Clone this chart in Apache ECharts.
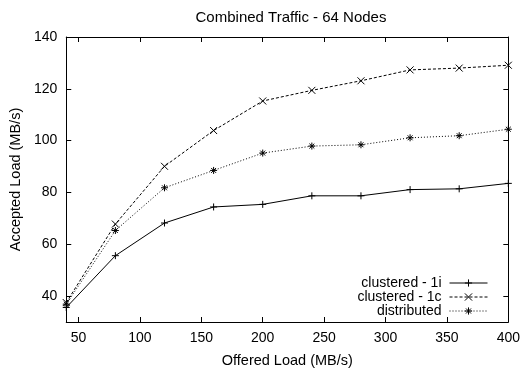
<!DOCTYPE html>
<html>
<head>
<meta charset="utf-8">
<script src="https://cdn.jsdelivr.net/npm/echarts@6/dist/echarts.min.js"></script>
<style>
  html, body { margin: 0; padding: 0; background: #fff; }
  #chart { width: 523px; height: 375px; }
</style>
</head>
<body>
<div id="chart"></div>
<script>
// Offered load (MB/s) at each measurement
const offeredLoad = [40, 80, 120, 160, 200, 240, 280, 320, 360, 400];

// Accepted load (MB/s) per configuration
const clustered1i = [35.6, 55.6, 68.2, 74.4, 75.4, 78.7, 78.7, 81.1, 81.4, 83.5];
const clustered1c = [37.5, 67.8, 90.1, 103.9, 115.3, 119.4, 123.1, 127.3, 128.0, 129.1];
const distributed = [36.9, 65.3, 81.8, 88.5, 95.2, 97.9, 98.4, 101.1, 101.9, 104.4];

// Tick positions on both axes
const xTicks = [50, 100, 150, 200, 250, 300, 350, 400];
const yTicks = [40, 60, 80, 100, 120, 140];

const seriesNames = ['clustered - 1i', 'clustered - 1c', 'distributed'];

const FONT = 'Liberation Sans, Arial, Helvetica, sans-serif';
const INK = '#000';

// Point markers: plus, cross and star
const PLUS = 'path://M5,0L5,10M0,5L10,5';
const CROSS = 'path://M0,0L10,10M10,0L0,10';
const STAR = 'path://M5,0L5,10M0,5L10,5M1.5,1.5L8.5,8.5M8.5,1.5L1.5,8.5';

function pairs(ys) {
  return offeredLoad.map((x, i) => [x, ys[i]]);
}

function lineSeries(name, ys, symbol, dash) {
  return {
    name: name,
    type: 'line',
    data: pairs(ys),
    symbol: symbol,
    symbolSize: 7,
    showAllSymbol: true,
    lineStyle: { color: INK, width: 1, type: dash },
    itemStyle: { color: INK, borderColor: INK, borderWidth: 1 },
    emphasis: { disabled: true },
    animation: false,
    z: 3
  };
}

const axisLineStyle = { show: true, lineStyle: { color: INK, width: 1 } };
const tickStyle = (vals) => ({
  show: true, inside: true, length: 5,
  customValues: vals,
  lineStyle: { color: INK, width: 1 }
});

const chart = echarts.init(document.getElementById('chart'), null, { renderer: 'canvas' });

chart.setOption({
  backgroundColor: '#fff',
  animation: false,
  title: {
    text: 'Combined Traffic - 64 Nodes',
    left: 286,
    top: 5,
    textAlign: 'center',
    textStyle: { fontFamily: FONT, fontSize: 15, fontWeight: 'normal', color: INK }
  },
  grid: { left: 66, right: 13, top: 37, bottom: 53, containLabel: false },
  legend: {
    orient: 'vertical',
    align: 'right',
    right: 35,
    top: 276,
    padding: 0,
    itemWidth: 38,
    itemHeight: 9,
    itemGap: 0,
    data: seriesNames,
    lineStyle: { width: 1 },
    itemStyle: { borderWidth: 1 },
    textStyle: { fontFamily: FONT, fontSize: 14, lineHeight: 14, color: INK, padding: [0, 3, 0, 0] },
    selectedMode: false
  },
  xAxis: [
    {
      type: 'value', position: 'bottom', min: 40, max: 400,
      name: 'Offered Load (MB/s)', nameLocation: 'middle', nameGap: 31,
      nameTextStyle: { fontFamily: FONT, fontSize: 14.5, color: INK },
      axisLine: axisLineStyle,
      axisTick: tickStyle(xTicks),
      axisLabel: { customValues: xTicks, margin: 9, fontFamily: FONT, fontSize: 14, color: INK },
      splitLine: { show: false }
    },
    {
      type: 'value', position: 'top', min: 40, max: 400,
      axisLine: axisLineStyle,
      axisTick: tickStyle(xTicks),
      axisLabel: { show: false },
      splitLine: { show: false }
    }
  ],
  yAxis: [
    {
      type: 'value', position: 'left', min: 30, max: 140,
      name: 'Accepted Load (MB/s)', nameLocation: 'middle', nameGap: 40,
      nameTextStyle: { fontFamily: FONT, fontSize: 14.5, color: INK },
      axisLine: axisLineStyle,
      axisTick: tickStyle(yTicks),
      axisLabel: { customValues: yTicks, margin: 9, fontFamily: FONT, fontSize: 14, color: INK },
      splitLine: { show: false }
    },
    {
      type: 'value', position: 'right', min: 30, max: 140,
      axisLine: axisLineStyle,
      axisTick: tickStyle(yTicks),
      axisLabel: { show: false },
      splitLine: { show: false }
    }
  ],
  series: [
    lineSeries(seriesNames[0], clustered1i, PLUS, 'solid'),
    lineSeries(seriesNames[1], clustered1c, CROSS, [3, 2]),
    lineSeries(seriesNames[2], distributed, STAR, [1, 2])
  ]
});
</script>
</body>
</html>
